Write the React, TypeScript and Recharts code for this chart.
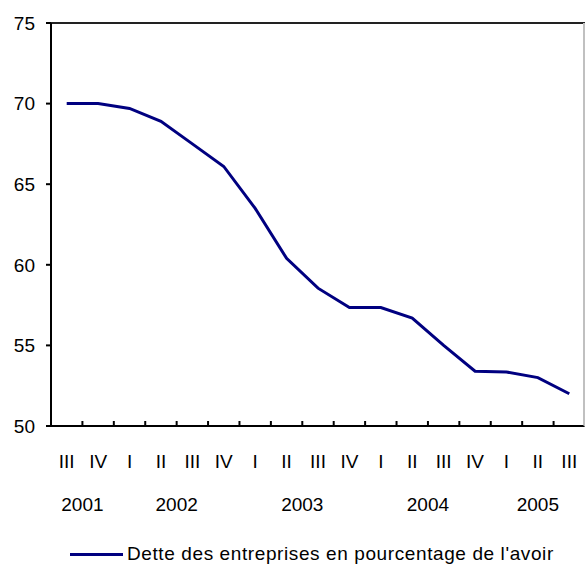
import React from "react";
import { LineChart, Line, XAxis, YAxis, ReferenceLine, Legend, CartesianGrid } from "recharts";

const quarters = ["III", "IV", "I", "II", "III", "IV", "I", "II", "III", "IV", "I", "II", "III", "IV", "I", "II", "III"];
const years = ["2001", "2001", "2002", "2002", "2002", "2002", "2003", "2003", "2003", "2003", "2004", "2004", "2004", "2004", "2005", "2005", "2005"];
const debtRatio = [70.0, 70.0, 69.7, 68.9, 67.5, 66.1, 63.5, 60.4, 58.55, 57.35, 57.35, 56.7, 55.0, 53.4, 53.35, 53.0, 52.0];
const yTicks = [50, 55, 60, 65, 70, 75];
const seriesName = "Dette des entreprises en pourcentage de l'avoir";

const data = debtRatio.map((v, i) => ({ idx: i, q: quarters[i], year: years[i], value: v }));
const boundaryTicks = quarters.slice(1).map((_, i) => i + 0.5);
const quarterTicks = quarters.map((_, i) => i);
const yearNames = Array.from(new Set(years));
const yearCenters = yearNames.map((y) => {
  const idx = years.map((yy, i) => (yy === y ? i : -1)).filter((i) => i >= 0);
  return (idx[0] + idx[idx.length - 1]) / 2;
});
const domain: [number, number] = [-0.5, quarters.length - 0.5];
const yDomain: [number, number] = [yTicks[0], yTicks[yTicks.length - 1]];

const FONT = '"Liberation Sans", Arial, Helvetica, sans-serif';
const NAVY = "#000080";

const W = 586;
const H = 567;
const MARGIN = { top: 23, right: 1, left: 0, bottom: 0 };
const Y_AXIS_W = 51;
const Q_AXIS_H = 60;
const YR_AXIS_H = 55;
const LEGEND_H = 26;
const PLOT_W = W - MARGIN.left - MARGIN.right - Y_AXIS_W;
const PLOT_H = H - MARGIN.top - MARGIN.bottom - Q_AXIS_H - YR_AXIS_H - LEGEND_H;

const EmptyTick = () => <g />;

const LegendContent = () => (
  <div
    style={{
      height: LEGEND_H,
      display: "flex",
      alignItems: "center",
      paddingLeft: 70,
      fontFamily: FONT,
      fontSize: 19,
      color: "#000",
      whiteSpace: "nowrap",
    }}
  >
    <span style={{ display: "inline-block", width: 53, height: 3, background: NAVY, marginRight: 4 }} />
    <span style={{ letterSpacing: 0.6 }}>{seriesName}</span>
  </div>
);

export default function App() {
  return (
    <div style={{ position: "relative", width: W, height: H, background: "#fff" }}>
      <style>{`body{margin:0;background:#fff}`}</style>
      <LineChart width={W} height={H} data={data} margin={MARGIN}>
        <CartesianGrid
          xAxisId="q"
          horizontal={true}
          vertical={false}
          horizontalValues={[yDomain[0]]}
          stroke="#000"
          strokeWidth={2}
          strokeDasharray=""
        />
        <XAxis
          xAxisId="q"
          type="number"
          dataKey="idx"
          domain={domain}
          ticks={quarterTicks}
          interval={0}
          tickFormatter={(v: number) => quarters[v]}
          tickLine={false}
          axisLine={{ stroke: "#000", strokeWidth: 2 }}
          stroke="#000"
          tickSize={0}
          tickMargin={29}
          height={Q_AXIS_H}
          tick={{ fontFamily: FONT, fontSize: 19, fill: "#000", stroke: "none" }}
        />
        <XAxis
          xAxisId="yr"
          type="number"
          dataKey="idx"
          domain={domain}
          ticks={yearCenters}
          interval={0}
          tickFormatter={(v: number) => yearNames[yearCenters.indexOf(v)]}
          tickLine={false}
          axisLine={false}
          tickSize={0}
          tickMargin={12}
          height={YR_AXIS_H}
          tick={{ fontFamily: FONT, fontSize: 19, fill: "#000" }}
        />
        <XAxis
          xAxisId="b"
          type="number"
          dataKey="idx"
          domain={domain}
          ticks={boundaryTicks}
          interval={0}
          mirror
          height={30}
          tick={<EmptyTick />}
          tickSize={5}
          axisLine={false}
          tickLine={{ stroke: "#000", strokeWidth: 2 }}
        />
        <YAxis
          type="number"
          domain={yDomain}
          ticks={yTicks}
          interval={0}
          width={Y_AXIS_W}
          tickSize={5}
          tickMargin={11}
          axisLine={{ stroke: "#000", strokeWidth: 2 }}
          tickLine={{ stroke: "#000", strokeWidth: 2 }}
          tick={{ fontFamily: FONT, fontSize: 19, fill: "#000" }}
        />
        <ReferenceLine xAxisId="q" y={yDomain[1]} stroke="#222" strokeWidth={2} ifOverflow="visible" />
        <Legend verticalAlign="bottom" align="left" content={<LegendContent />} />
        <Line
          xAxisId="b"
          type="linear"
          dataKey="value"
          name={seriesName}
          stroke={NAVY}
          strokeWidth={3}
          dot={false}
          activeDot={false}
          isAnimationActive={false}
        />
      </LineChart>
      <div
        style={{
          position: "absolute",
          zIndex: 5,
          left: MARGIN.left + Y_AXIS_W - 1,
          top: MARGIN.top,
          width: PLOT_W + 1,
          height: PLOT_H + 1,
          boxSizing: "border-box",
          borderBottom: "2px solid #000",
          borderRight: "2px solid #c0c0c0",
          pointerEvents: "none",
        }}
      />
    </div>
  );
}
